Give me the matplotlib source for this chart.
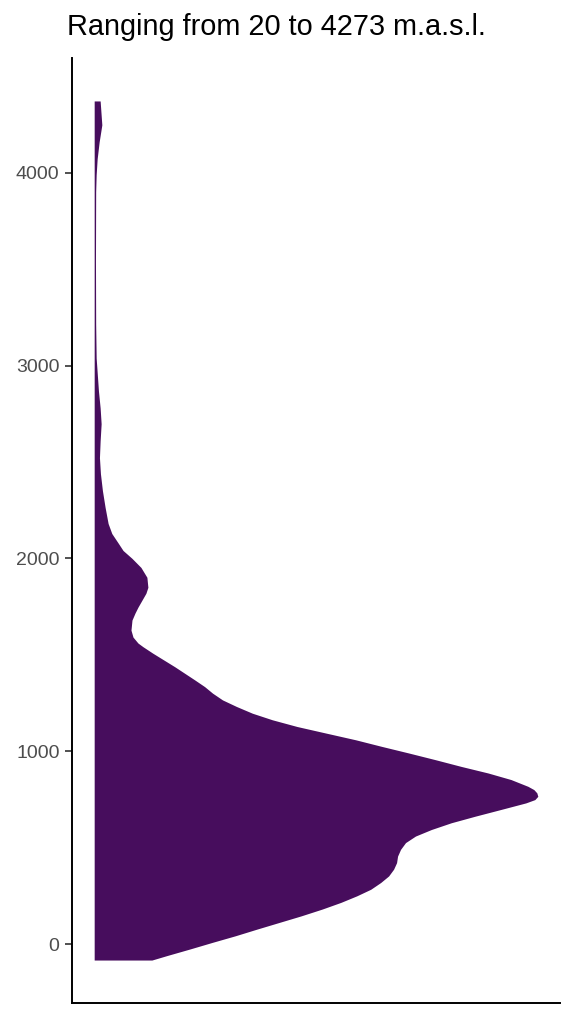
import matplotlib
matplotlib.use("Agg")
import matplotlib.pyplot as plt

# elevation (m a.s.l.) and relative density (width) of the half violin
elev = [4372, 4248, 4160, 4072, 3990, 3902, 3540, 3214, 3039, 2868, 2780,
        2698, 2610, 2522, 2439, 2351, 2264, 2181, 2129, 2078, 2041, 2000,
        1953, 1902, 1850, 1819, 1783, 1747, 1716, 1680, 1628, 1592, 1561,
        1542, 1508, 1473, 1438, 1404, 1370, 1335, 1301, 1266, 1232, 1197,
        1163, 1128, 1094, 1059, 1025, 991, 956, 921, 887, 853, 818, 801, 784,
        766, 749, 732, 698, 663, 629, 594, 560, 526, 491, 456, 422, 388, 353,
        319, 284, 250, 216, 181, 146, 112, 78, 43, 9, -26, -60, -83]
dens = [6, 7.7, 5, 3, 2, 1.5, 1.3, 1.5, 2, 4.3, 6,
        7, 6, 5.3, 6.3, 8.3, 11, 14, 17.7, 24.3, 29, 38,
        47, 53, 54, 52, 48, 44, 41, 38, 37, 39, 44,
        49, 59, 70, 81, 91, 101, 111, 119, 129, 143, 159,
        179, 204, 233, 263, 289, 316, 343, 369, 396, 419, 436, 442, 445,
        446, 443, 434, 409, 383, 359, 339, 323, 313, 308, 305, 304, 301, 296,
        288, 278, 264, 248, 229, 208, 186, 164, 142, 119, 96, 73, 58]
yticks = [0, 1000, 2000, 3000, 4000]
title = "Ranging from 20 to 4273 m.a.s.l."

plt.rcParams['font.family'] = ['Liberation Sans', 'DejaVu Sans']

fig = plt.figure(figsize=(5.74, 10.24), dpi=100)
ax = fig.add_axes([72/574, 21/1024, 488/574, 945/1024])

ax.fill_betweenx(elev, 0, dens, color='#470D5D', linewidth=0)

xr = max(dens)
ax.set_xlim(-0.05*xr, 1.05*xr)
yr = max(elev) - min(elev)
ax.set_ylim(min(elev) - 0.05*yr, max(elev) + 0.05*yr)

ax.set_xticks([])
ax.set_yticks(yticks)
ax.tick_params(axis='y', length=5, width=1.2, color='#333333',
               labelsize=14, labelcolor='#4D4D4D', pad=4)
for s in ['top', 'right']:
    ax.spines[s].set_visible(False)
for s in ['left', 'bottom']:
    ax.spines[s].set_linewidth(1.4)
    ax.spines[s].set_color('black')

fig.text(276/574, 1 - 27/1024, title, ha='center', va='center', fontsize=20.8)

fig.savefig("out.png", dpi=100)
